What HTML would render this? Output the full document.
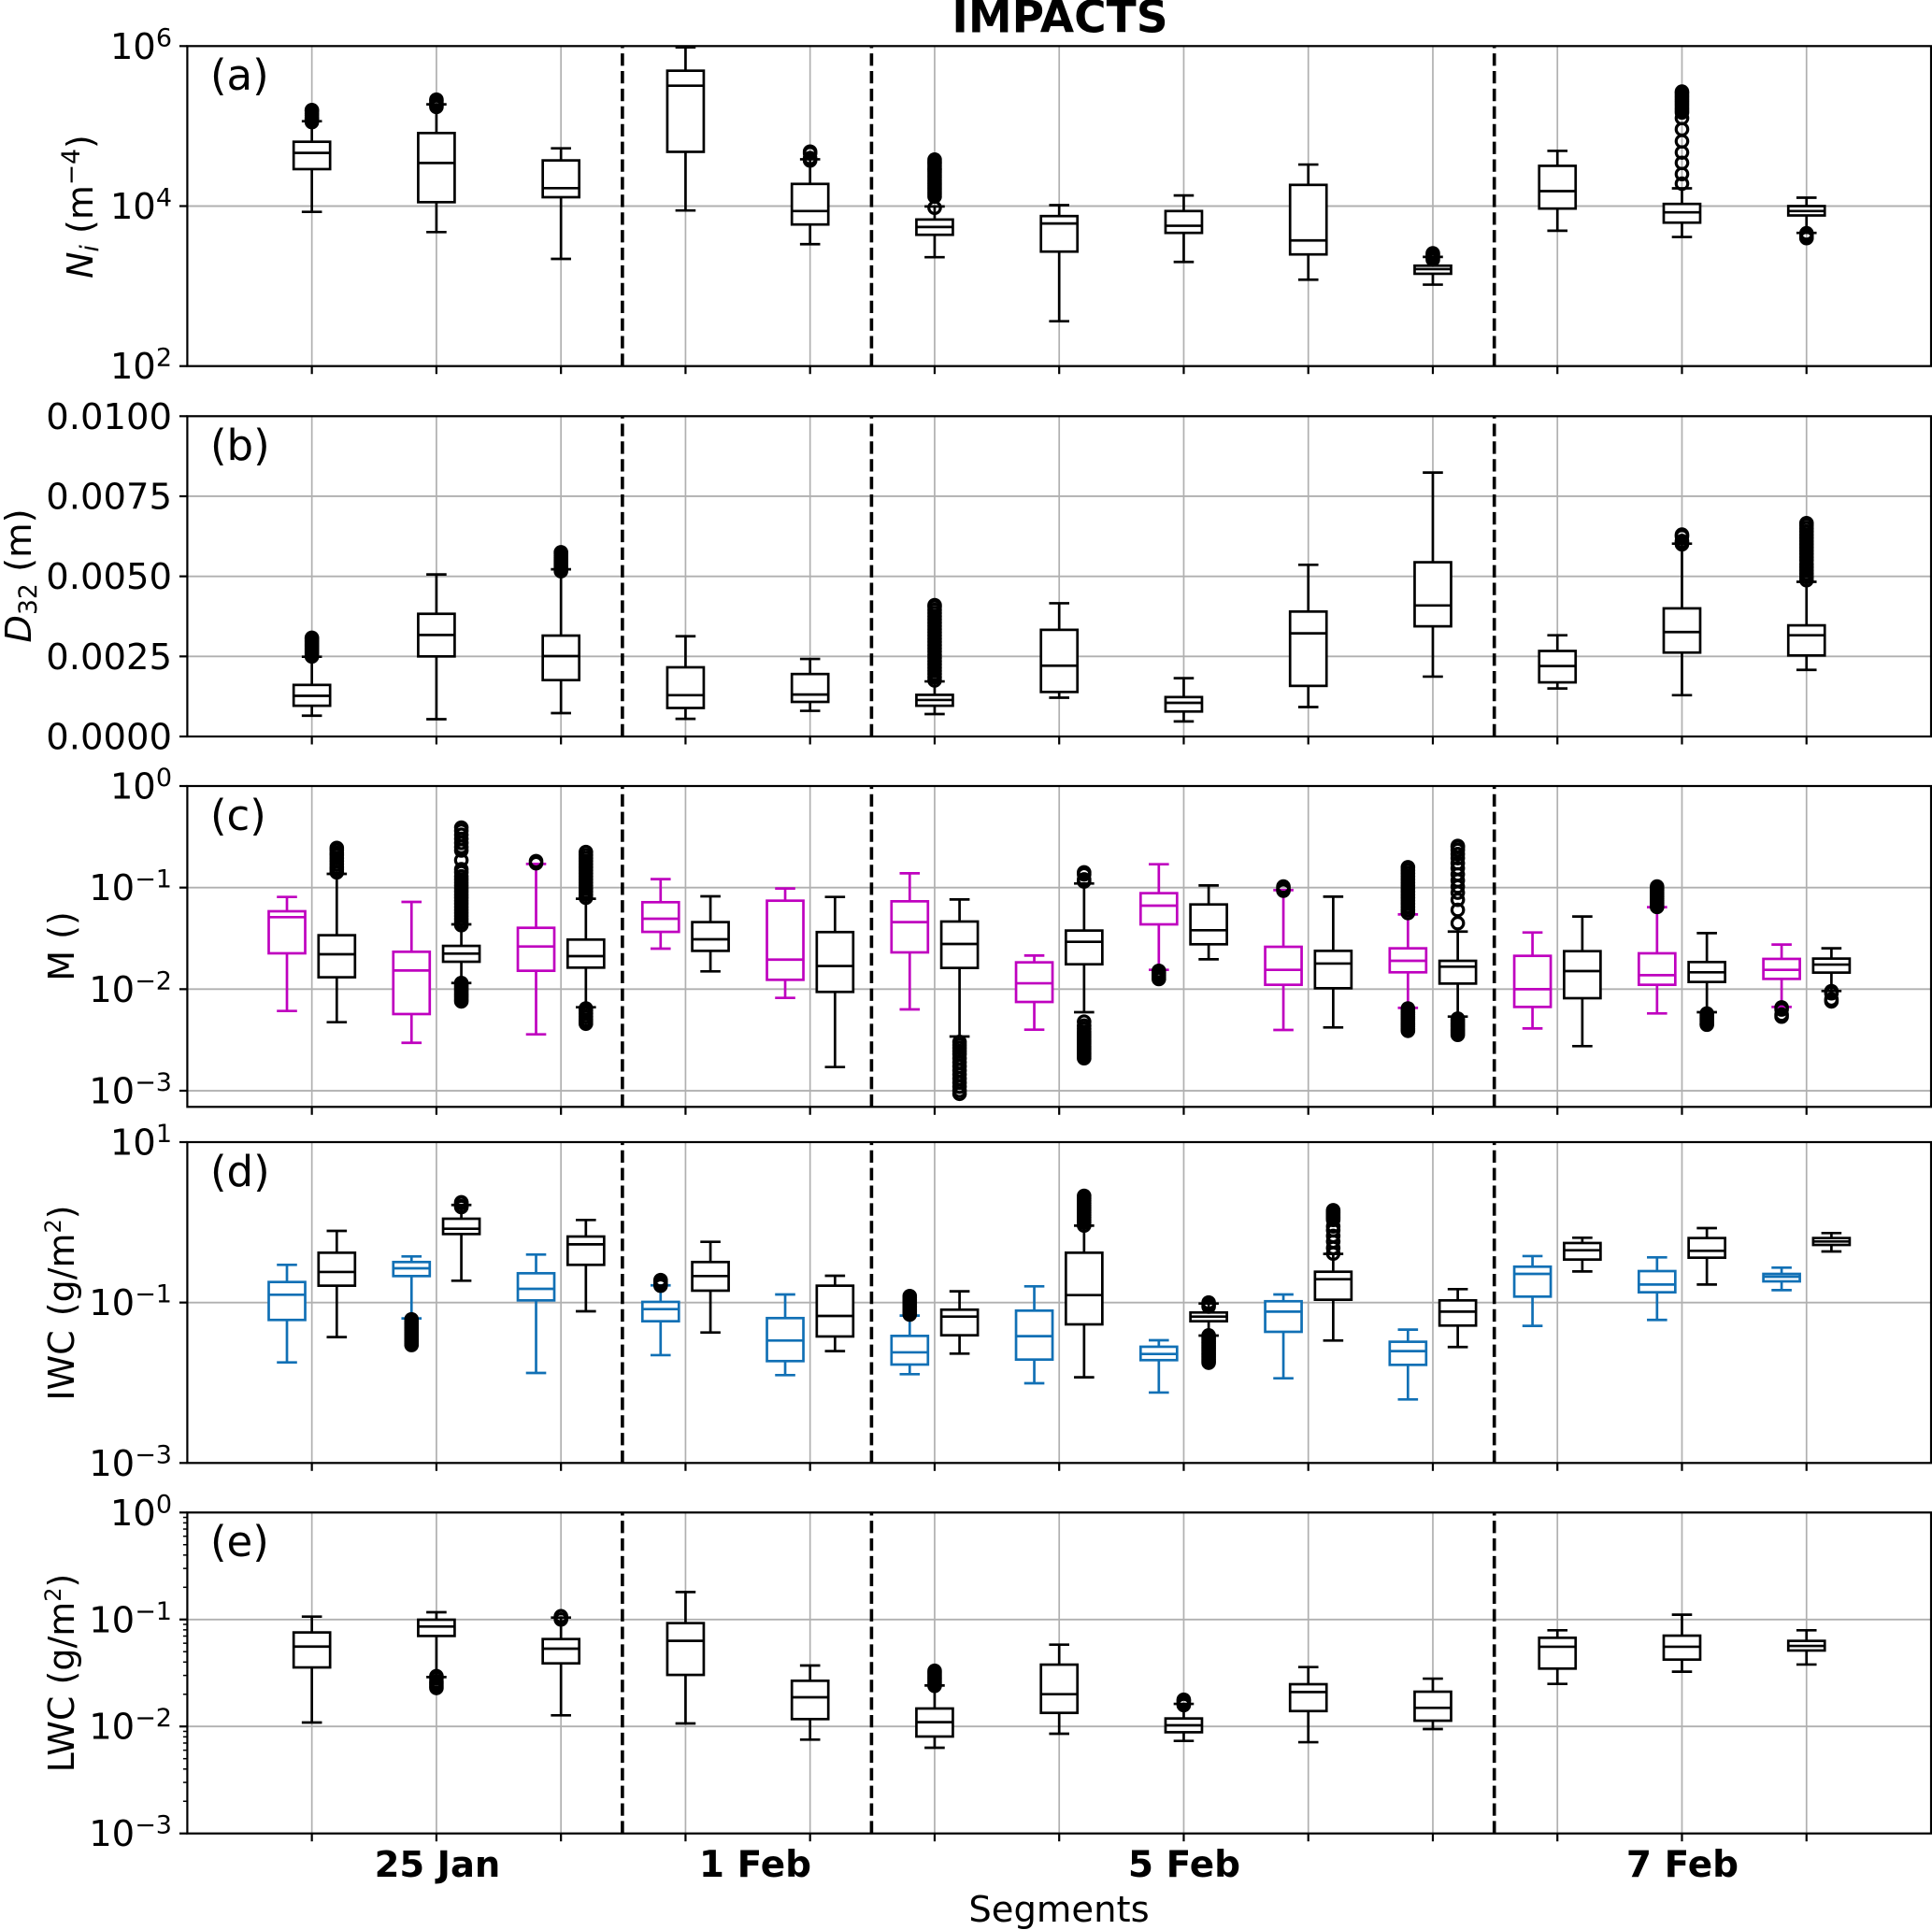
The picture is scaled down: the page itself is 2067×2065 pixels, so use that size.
<!DOCTYPE html>
<html lang="en">
<head>
<meta charset="utf-8">
<title>IMPACTS</title>
<style>
html,body{margin:0;padding:0;background:#fff;}
svg{display:block;font-family:"DejaVu Sans","Liberation Sans",sans-serif;fill:#000;}
</style>
</head>
<body>
<svg id="fig" xmlns="http://www.w3.org/2000/svg" width="2067" height="2065" viewBox="0 0 2067 2065">
  <rect x="0" y="0" width="2067" height="2065" fill="#fff"/>
  <g id="marks"></g>
  <text x="1134" y="34.5" font-size="47" font-weight="bold" text-anchor="middle">IMPACTS</text>
  <text x="1133" y="2056" font-size="38.5" text-anchor="middle">Segments</text>
  <text transform="translate(99,221) rotate(-90)" font-size="38" text-anchor="middle" xml:space="preserve"><tspan font-style="italic">N</tspan><tspan font-style="italic" font-size="26.6" dy="6">i</tspan><tspan dy="-6"> (m</tspan><tspan font-size="26.6" dy="-14">−4</tspan><tspan dy="14">)</tspan></text>
  <text transform="translate(33,616) rotate(-90)" font-size="38.5" text-anchor="middle" xml:space="preserve"><tspan font-style="italic">D</tspan><tspan font-size="26.6" dy="6">32</tspan><tspan dy="-6"> (m)</tspan></text>
  <text transform="translate(79,1012.5) rotate(-90)" font-size="38" text-anchor="middle" xml:space="preserve">M ()</text>
  <text transform="translate(79,1394) rotate(-90)" font-size="38" text-anchor="middle" xml:space="preserve">IWC <tspan dx="3">(g/m</tspan><tspan font-size="24" dy="-14">2</tspan><tspan dy="14">)</tspan></text>
  <text transform="translate(79,1790) rotate(-90)" font-size="38" text-anchor="middle" xml:space="preserve">LWC (g/m<tspan font-size="24" dy="-14">2</tspan><tspan dy="14">)</tspan></text>
  <text x="225" y="96" font-size="45">(a)</text>
  <text x="225" y="492" font-size="45">(b)</text>
  <text x="225" y="888" font-size="45">(c)</text>
  <text x="225" y="1269" font-size="45">(d)</text>
  <text x="225" y="1665" font-size="45">(e)</text>
  <text x="468" y="2008" font-size="38.5" font-weight="bold" text-anchor="middle">25 Jan</text>
  <text x="808" y="2008" font-size="39" font-weight="bold" text-anchor="middle">1 Feb</text>
  <text x="1267" y="2008" font-size="39" font-weight="bold" text-anchor="middle">5 Feb</text>
  <text x="1800" y="2008" font-size="39" font-weight="bold" text-anchor="middle">7 Feb</text>
</svg>
<script>
// x categories (segment numbers) and flight-day separators
const segments = [1,2,3,4,5,6,7,8,9,10,11,12,13];
const separators = [3.5,5.5,10.5];

// Tick labels
const niTicks = [6,4,2];
const d32Ticks = [0,0.0025,0.005,0.0075,0.01];
const d32TickLabels = ['0.0000','0.0025','0.0050','0.0075','0.0100'];
const mTicks = [0,-1,-2,-3];
const iwcTicks = [1,-1,-3];
const lwcTicks = [0,-1,-2,-3];

// (a) Ni, log10 of m^-4
const niLow  = [3.928,3.675,3.340,3.945,3.524,3.361,2.561,3.302,3.080,3.018,3.692,3.614,3.665];
const niQ1   = [4.462,4.049,4.111,4.678,3.770,3.641,3.431,3.665,3.396,3.154,3.969,3.793,3.883];
const niMed  = [4.664,4.539,4.224,5.505,3.938,3.739,3.782,3.754,3.571,3.212,4.187,3.922,3.938];
const niQ3   = [4.804,4.913,4.571,5.692,4.277,3.832,3.875,3.938,4.265,3.255,4.503,4.027,4.000];
const niHigh = [5.061,5.272,4.722,5.984,4.585,3.996,4.012,4.133,4.519,3.365,4.690,4.222,4.105];
const niFliers = [
 [5.05,5.08,5.10,5.13,5.16,5.19,5.20],[5.24,5.26,5.28,5.31,5.33],[],[],[4.57,4.60,4.66,4.68],
 [3.98,4.12,4.15,4.18,4.21,4.24,4.27,4.30,4.33,4.36,4.39,4.42,4.45,4.47,4.50,4.53,4.55,4.58],[],[],[],
 [3.33,3.36,3.39,3.41],[],
 [4.28,4.40,4.54,4.67,4.81,4.96,5.10,5.17,5.20,5.23,5.26,5.29,5.32,5.35,5.38,5.41,5.43],[3.60,3.62,3.64,3.66]
];

// (b) D32, metres
const d32Low  = [0.00065,0.00054,0.00073,0.00055,0.00080,0.00070,0.00121,0.00047,0.00092,0.00187,0.00150,0.00129,0.00208];
const d32Q1   = [0.00096,0.00250,0.00176,0.00089,0.00108,0.00096,0.00139,0.00078,0.00158,0.00344,0.00169,0.00262,0.00253];
const d32Med  = [0.00127,0.00317,0.00251,0.00129,0.00131,0.00114,0.00221,0.00105,0.00322,0.00409,0.00220,0.00326,0.00316];
const d32Q3   = [0.00161,0.00383,0.00315,0.00216,0.00195,0.00130,0.00333,0.00123,0.00390,0.00544,0.00267,0.00400,0.00347];
const d32High = [0.00249,0.00506,0.00522,0.00313,0.00242,0.00172,0.00416,0.00182,0.00536,0.00824,0.00316,0.00602,0.00483];
const d32Fliers = [
 [0.00250,0.00255,0.00260,0.00265,0.00270,0.00275,0.00280,0.00285,0.00290,0.00295,0.00300,0.00305,0.00308],[],
 [0.00516,0.00522,0.00528,0.00534,0.00540,0.00546,0.00552,0.00558,0.00564,0.00570,0.00575],[],[],
 [0.00175,0.00185,0.00195,0.00205,0.00215,0.00225,0.00235,0.00245,0.00255,0.00265,0.00275,0.00285,0.00295,0.00305,0.00315,0.00325,0.00335,0.00345,0.00355,0.00365,0.00375,0.00385,0.00395,0.00405,0.00410],
 [],[],[],[],[],[0.00600,0.00605,0.00610,0.00625,0.00630],
 [0.00488,0.00498,0.00508,0.00518,0.00528,0.00538,0.00550,0.00560,0.00570,0.00580,0.00590,0.00600,0.00610,0.00620,0.00630,0.00640,0.00650,0.00660,0.00666]
];

// (c) M, log10 — left (magenta) series
const mLeftLow  = [-2.215,-2.528,-2.445,-1.601,-2.086,-2.199,-2.399,-1.810,-2.402,-2.184,-2.387,-2.239,-2.175];
const mLeftQ1   = [-1.647,-2.245,-1.819,-1.436,-1.908,-1.638,-2.126,-1.362,-1.957,-1.834,-2.175,-1.957,-1.899];
const mLeftMed  = [-1.291,-1.816,-1.580,-1.307,-1.709,-1.340,-1.942,-1.178,-1.810,-1.721,-2.000,-1.862,-1.810];
const mLeftQ3   = [-1.233,-1.632,-1.396,-1.144,-1.129,-1.135,-1.736,-1.055,-1.583,-1.598,-1.672,-1.647,-1.702];
const mLeftHigh = [-1.092,-1.141,-0.767,-0.917,-1.009,-0.859,-1.669,-0.770,-1.025,-1.264,-1.442,-1.193,-1.561];
const mLeftFliers = [
 [],[],[-0.74,-0.76],[],[],[],[],[-1.82,-1.84,-1.86,-1.88,-1.90],[-0.99,-1.01,-1.03],
 [-0.80,-0.83,-0.86,-0.89,-0.92,-0.95,-0.98,-1.01,-1.04,-1.07,-1.10,-1.13,-1.16,-1.19,-1.22,-1.25,-2.19,-2.21,-2.23,-2.25,-2.27,-2.29,-2.31,-2.33,-2.35,-2.37,-2.39,-2.41],
 [],
 [-0.99,-1.01,-1.03,-1.05,-1.07,-1.09,-1.11,-1.13,-1.15,-1.17,-1.19],
 [-2.18,-2.20,-2.25,-2.27]
];

// (c) M, log10 — right (black) series
const mRightLow  = [-2.325,-1.939,-2.178,-1.825,-2.767,-2.466,-2.227,-1.706,-2.377,-2.270,-2.561,-2.227,-2.018];
const mRightQ1   = [-1.883,-1.730,-1.788,-1.623,-2.027,-1.791,-1.755,-1.558,-1.991,-1.945,-2.089,-1.929,-1.837];
const mRightMed  = [-1.656,-1.650,-1.675,-1.509,-1.772,-1.555,-1.534,-1.420,-1.748,-1.779,-1.822,-1.834,-1.758];
const mRightQ3   = [-1.469,-1.574,-1.512,-1.340,-1.438,-1.334,-1.423,-1.166,-1.623,-1.721,-1.626,-1.733,-1.699];
const mRightHigh = [-0.865,-1.362,-1.110,-1.086,-1.092,-1.117,-0.960,-0.979,-1.089,-1.433,-1.285,-1.448,-1.598];
const mRightFliers = [
 [-0.85,-0.82,-0.80,-0.77,-0.74,-0.71,-0.68,-0.66,-0.63,-0.61],
 [-1.37,-1.34,-1.31,-1.28,-1.25,-1.22,-1.19,-1.16,-1.13,-1.10,-1.07,-1.04,-1.01,-0.98,-0.95,-0.92,-0.89,-0.85,-0.82,-0.73,-0.635,-0.60,-0.56,-0.52,-0.48,-0.44,-0.41,-1.94,-1.96,-1.98,-2.00,-2.02,-2.04,-2.06,-2.08,-2.10,-2.12],
 [-1.10,-1.07,-1.04,-1.01,-0.98,-0.95,-0.92,-0.89,-0.86,-0.83,-0.80,-0.77,-0.74,-0.71,-0.68,-0.65,-2.19,-2.21,-2.24,-2.27,-2.30,-2.32,-2.34],
 [],[],
 [-2.52,-2.55,-2.58,-2.61,-2.64,-2.68,-2.72,-2.76,-2.80,-2.84,-2.88,-2.92,-2.96,-3.00,-3.03],
 [-0.85,-0.87,-0.92,-0.94,-2.32,-2.36,-2.39,-2.42,-2.44,-2.46,-2.48,-2.50,-2.52,-2.54,-2.56,-2.58,-2.60,-2.62,-2.64,-2.66,-2.68],
 [],[],
 [-1.35,-1.22,-1.12,-1.05,-0.99,-0.93,-0.87,-0.81,-0.76,-0.71,-0.67,-0.63,-0.60,-0.59,-2.29,-2.31,-2.33,-2.35,-2.37,-2.39,-2.41,-2.43,-2.45],
 [],
 [-2.24,-2.26,-2.28,-2.30,-2.32,-2.34,-2.35],
 [-2.02,-2.04,-2.10,-2.12]
];

// (d) IWC, log10 — left (blue) series
const iwcLeftLow  = [-1.746,-1.198,-1.878,-1.656,-1.905,-1.893,-2.006,-2.122,-1.944,-2.208,-1.291,-1.217,-0.845];
const iwcLeftQ1   = [-1.217,-0.670,-0.973,-1.233,-1.730,-1.773,-1.711,-1.718,-1.365,-1.777,-0.926,-0.872,-0.736];
const iwcLeftMed  = [-0.903,-0.573,-0.829,-1.082,-1.474,-1.621,-1.419,-1.641,-1.113,-1.606,-0.643,-0.775,-0.678];
const iwcLeftQ3   = [-0.744,-0.495,-0.635,-0.992,-1.194,-1.416,-1.101,-1.551,-0.984,-1.489,-0.553,-0.608,-0.643];
const iwcLeftHigh = [-0.530,-0.425,-0.402,-0.786,-0.899,-1.163,-0.798,-1.470,-0.899,-1.338,-0.421,-0.437,-0.565];
const iwcLeftFliers = [
 [],
 [-1.21,-1.23,-1.25,-1.27,-1.29,-1.31,-1.33,-1.35,-1.37,-1.39,-1.41,-1.43,-1.45,-1.47,-1.49,-1.51,-1.53],
 [],[-0.72,-0.74,-0.77,-0.79],[],
 [-0.92,-0.94,-0.96,-0.98,-1.00,-1.02,-1.04,-1.06,-1.08,-1.10,-1.12,-1.14,-1.15],
 [],[],[],[],[],[],[]
];

// (d) IWC, log10 — right (black) series
const iwcRightLow  = [-1.431,-0.728,-1.109,-1.373,-1.606,-1.637,-1.932,-1.412,-1.474,-1.555,-0.612,-0.775,-0.363];
const iwcRightQ1   = [-0.790,-0.146,-0.530,-0.852,-1.423,-1.408,-1.272,-1.233,-0.965,-1.287,-0.464,-0.441,-0.282];
const iwcRightMed  = [-0.619,-0.080,-0.274,-0.670,-1.167,-1.175,-0.907,-1.175,-0.709,-1.113,-0.348,-0.355,-0.239];
const iwcRightQ3   = [-0.379,0.045,-0.177,-0.495,-0.790,-1.089,-0.379,-1.124,-0.616,-0.973,-0.258,-0.196,-0.196];
const iwcRightHigh = [-0.107,0.216,0.029,-0.243,-0.666,-0.860,-0.041,-1.012,-0.394,-0.833,-0.192,-0.072,-0.134];
const iwcRightFliers = [
 [],[0.19,0.20,0.24,0.25],[],[],[],[],
 [-0.04,0.00,0.03,0.06,0.09,0.12,0.15,0.18,0.21,0.24,0.27,0.30,0.33],
 [-1.00,-1.02,-1.05,-1.41,-1.43,-1.45,-1.47,-1.49,-1.51,-1.53,-1.55,-1.57,-1.59,-1.61,-1.63,-1.65,-1.67,-1.69,-1.71,-1.73,-1.75],
 [-0.39,-0.32,-0.24,-0.17,-0.10,-0.05,0.03,0.05,0.07,0.09,0.11,0.13,0.15],
 [],[],[],[]
];

// (e) LWC, log10
const lwcLow  = [-1.963,-1.538,-1.896,-1.972,-2.123,-2.199,-2.068,-2.135,-2.147,-2.024,-1.602,-1.488,-1.421];
const lwcQ1   = [-1.448,-1.154,-1.410,-1.518,-1.931,-2.094,-1.873,-2.054,-1.856,-1.946,-1.459,-1.375,-1.290];
const lwcMed  = [-1.253,-1.066,-1.273,-1.200,-1.727,-1.960,-1.698,-1.989,-1.678,-1.826,-1.255,-1.255,-1.247];
const lwcQ3   = [-1.121,-1.002,-1.183,-1.034,-1.573,-1.832,-1.422,-1.925,-1.605,-1.675,-1.171,-1.151,-1.200];
const lwcHigh = [-0.973,-0.932,-0.982,-0.743,-1.430,-1.617,-1.235,-1.789,-1.445,-1.553,-1.101,-0.955,-1.101];
const lwcFliers = [
 [],[-1.53,-1.55,-1.58,-1.60,-1.62,-1.64],[-0.97,-1.00],[],[],
 [-1.62,-1.60,-1.58,-1.56,-1.54,-1.52,-1.50,-1.48],[],[-1.80,-1.78,-1.76,-1.75],[],[],[],[],[]
];

const SVGNS = 'http://www.w3.org/2000/svg';
const root = document.getElementById('marks');
const plotLeft = 200.4, plotRight = 2066, xMax = 14;
const MAGENTA = '#bf00bf', BLUE = '#1170b5', BLACK = '#000';

function xScale(v){ return plotLeft + v * (plotRight - plotLeft) / xMax; }
function linearAxis(dMin, dMax, top, bottom){
  return v => bottom - (v - dMin) / (dMax - dMin) * (bottom - top);
}
function make(tag, attrs, parent){
  const n = document.createElementNS(SVGNS, tag);
  for (const k in attrs) n.setAttribute(k, attrs[k]);
  parent.appendChild(n);
  return n;
}

function drawBox(parent, y, s, i, offset, color, label){
  const cx = xScale(segments[i] + offset);
  const hw = 19.5, cap = 10.8, lw = 2.7;
  const g = make('g', {}, parent);
  
  

  const wLow = make('line', {x1:cx,x2:cx,y1:y(s.q1[i]),y2:y(s.low[i]),stroke:color,'stroke-width':lw}, g);
  
  
  const wHigh = make('line', {x1:cx,x2:cx,y1:y(s.q3[i]),y2:y(s.high[i]),stroke:color,'stroke-width':lw}, g);
  
  
  const cLow = make('line', {x1:cx-cap,x2:cx+cap,y1:y(s.low[i]),y2:y(s.low[i]),stroke:color,'stroke-width':lw}, g);
  
  
  const cHigh = make('line', {x1:cx-cap,x2:cx+cap,y1:y(s.high[i]),y2:y(s.high[i]),stroke:color,'stroke-width':lw}, g);
  
  
  const body = make('rect', {x:cx-hw,width:2*hw,y:y(s.q3[i]),height:y(s.q1[i])-y(s.q3[i]),fill:'#fff',stroke:color,'stroke-width':lw}, g);
  
  
  const med = make('line', {x1:cx-hw,x2:cx+hw,y1:y(s.med[i]),y2:y(s.med[i]),stroke:color,'stroke-width':lw}, g);
  
  
  for (const f of s.fliers[i]) {
    const c = make('circle', {cx:cx,cy:y(f),r:6.2,fill:'none',stroke:BLACK,'stroke-width':3.2}, g);
    
    
  }
}

function tickLabel(parent, y, base, sup){
  const t = make('text', {x:184,y:y+13.5,'font-size':38.5,'text-anchor':'end'}, parent);
  
  
  const a = make('tspan', {}, t);
  a.textContent = base;
  if (sup !== undefined) {
    const b = make('tspan', {dy:-13.5,'font-size':27}, t);
    b.textContent = sup;
  }
}

function drawPanel(cfg){
  const {name, top, bottom, yMin, yMax, ticks, labels, minor, series} = cfg;
  const y = linearAxis(yMin, yMax, top, bottom);
  const g = make('g', {}, root);
  
  

  // grid
  for (const s of segments) {
    const gl = make('line', {x1:xScale(s),x2:xScale(s),y1:top,y2:bottom,stroke:'#b0b0b0','stroke-width':1.7}, g);
    
    
  }
  ticks.forEach(t => {
    const gl = make('line', {x1:plotLeft,x2:plotRight,y1:y(t),y2:y(t),stroke:'#b0b0b0','stroke-width':1.9}, g);
    
    
  });

  // separators
  for (const d of separators) {
    const sx = xScale(d) - 0.9;
    const sep = make('line', {x1:sx,x2:sx,y1:bottom,y2:top,stroke:BLACK,'stroke-width':3.6,'stroke-dasharray':'13.3 5.6'}, g);
    
    
  }

  // boxes
  series.forEach(s => {
    segments.forEach((_, i) => drawBox(g, y, s, i, s.offset, s.color, name + '-' + s.key));
  });

  // spines
  const frame = make('rect', {x:plotLeft,y:top,width:plotRight-plotLeft,height:bottom-top,fill:'none',stroke:BLACK,'stroke-width':2.2}, g);
  
  

  // ticks
  for (const s of segments) {
    const tk = make('line', {x1:xScale(s),x2:xScale(s),y1:bottom,y2:bottom+8.5,stroke:BLACK,'stroke-width':2.2}, g);
    
    
  }
  ticks.forEach((t, i) => {
    const tk = make('line', {x1:plotLeft-8.5,x2:plotLeft,y1:y(t),y2:y(t),stroke:BLACK,'stroke-width':2.2}, g);
    
    
    if (labels) tickLabel(g, y(t), labels[i]);
    else tickLabel(g, y(t), '10', String(t).replace('-', '\u2212'));
    if (minor && i < ticks.length - 1) {
      for (const m of minor) {
        const my = y(ticks[i + 1] + Math.log10(m));
        const mk = make('line', {x1:plotLeft-4.5,x2:plotLeft,y1:my,y2:my,stroke:BLACK,'stroke-width':1.5}, g);
        
        
      }
    }
  });
}

drawPanel({name:'ni', top:49.3, bottom:391.7, yMin:2, yMax:6, ticks:niTicks,
  series:[{key:'all',offset:0,color:BLACK,low:niLow,q1:niQ1,med:niMed,q3:niQ3,high:niHigh,fliers:niFliers}]});
drawPanel({name:'d32', top:445.3, bottom:788, yMin:0, yMax:0.01, ticks:d32Ticks, labels:d32TickLabels,
  series:[{key:'all',offset:0,color:BLACK,low:d32Low,q1:d32Q1,med:d32Med,q3:d32Q3,high:d32High,fliers:d32Fliers}]});
drawPanel({name:'m', top:841, bottom:1184.3, yMin:-3.159, yMax:0, ticks:mTicks,
  series:[
    {key:'left',offset:-0.2,color:MAGENTA,low:mLeftLow,q1:mLeftQ1,med:mLeftMed,q3:mLeftQ3,high:mLeftHigh,fliers:mLeftFliers},
    {key:'right',offset:0.2,color:BLACK,low:mRightLow,q1:mRightQ1,med:mRightMed,q3:mRightQ3,high:mRightHigh,fliers:mRightFliers}
  ]});
drawPanel({name:'iwc', top:1222, bottom:1565.3, yMin:-3, yMax:1, ticks:iwcTicks,
  series:[
    {key:'left',offset:-0.2,color:BLUE,low:iwcLeftLow,q1:iwcLeftQ1,med:iwcLeftMed,q3:iwcLeftQ3,high:iwcLeftHigh,fliers:iwcLeftFliers},
    {key:'right',offset:0.2,color:BLACK,low:iwcRightLow,q1:iwcRightQ1,med:iwcRightMed,q3:iwcRightQ3,high:iwcRightHigh,fliers:iwcRightFliers}
  ]});
drawPanel({name:'lwc', top:1618.3, bottom:1961.7, yMin:-3, yMax:0, ticks:lwcTicks, minor:[2,3,4,5,6,7,8,9],
  series:[{key:'all',offset:0,color:BLACK,low:lwcLow,q1:lwcQ1,med:lwcMed,q3:lwcQ3,high:lwcHigh,fliers:lwcFliers}]});
</script>
</body>
</html>
